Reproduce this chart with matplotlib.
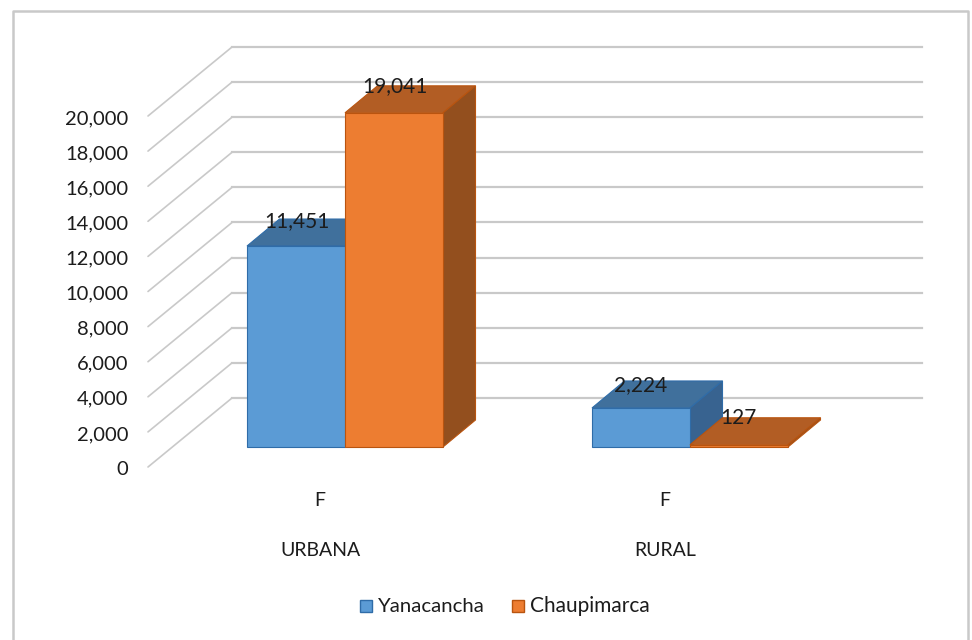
import matplotlib
matplotlib.use("Agg")
import matplotlib.pyplot as plt
from matplotlib.patches import Polygon, Rectangle

plt.rcParams['font.family'] = ['Lato', 'DejaVu Sans']

groups = ["URBANA", "RURAL"]
sub_labels = ["F", "F"]
series_names = ["Yanacancha", "Chaupimarca"]
yanacancha = [11451, 2224]
chaupimarca = [19041, 127]
ticks = list(range(0, 20001, 2000))

W, H = 972, 640
fig = plt.figure(figsize=(W / 100, H / 100), dpi=100)
ax = fig.add_axes([0, 0, 1, 1])

# scale: one group = 345 px, 1000 units = 17.55 px; group 0 centre at x=345 px, value 0 at y=447 px
PX_X = 345.0
PX_V = 0.01755
ax.set_xlim((0 - 345) / PX_X, (W - 345) / PX_X)
ax.set_ylim((447 - H) / PX_V, 447 / PX_V)
ax.axis("off")

def dx(px):
    return px / PX_X

def dv(px):
    return px / PX_V

BAR_W = dx(98)
DEPTH_X, DEPTH_V = dx(32.5), dv(27)
WALL_X0 = dx(148 - 345)
WALL_DX, WALL_DV = dx(84), dv(69)
FLOOR_V = dv(-20)
RIGHT_X = dx(922 - 345)
GRID = "#c9c9c9"
INK = "#1c1c1c"

for t in ticks:
    v = t + FLOOR_V
    ax.plot([WALL_X0, WALL_X0 + WALL_DX], [v, v + WALL_DV], color=GRID, lw=1.2, zorder=1,
            solid_capstyle="round")
    ax.plot([WALL_X0 + WALL_DX, RIGHT_X], [v + WALL_DV] * 2, color=GRID, lw=1.6, zorder=1)
    ax.text(WALL_X0 - dx(20), v - dv(2.5), f"{t:,}", ha="right", va="center",
            fontsize=14.5, color=INK)

def bar3d(x0, value, front, top, side, edge, z):
    x1 = x0 + BAR_W
    ax.add_patch(Polygon([(x0, value), (x1, value), (x1 + DEPTH_X, value + DEPTH_V),
                          (x0 + DEPTH_X, value + DEPTH_V)], fc=top, ec=edge, lw=0.8, zorder=z))
    ax.add_patch(Polygon([(x1, 0), (x1 + DEPTH_X, DEPTH_V), (x1 + DEPTH_X, value + DEPTH_V),
                          (x1, value)], fc=side, ec=edge, lw=0.8, zorder=z))
    ax.add_patch(Rectangle((x0, 0), BAR_W, value, fc=front, ec=edge, lw=0.8, zorder=z + 0.1))

BLUE = dict(front="#5b9bd5", top="#40709c", side="#386390", edge="#2f6ca8")
ORANGE = dict(front="#ed7d31", top="#b25d24", side="#934f1e", edge="#b9540f")

for i, (a, b) in enumerate(zip(yanacancha, chaupimarca)):
    bar3d(i - BAR_W, a, z=3, **BLUE)
    bar3d(i, b, z=4, **ORANGE)

lab_y = [dv(447 - 221), dv(447 - 86), dv(447 - 385), dv(447 - 418)]
lab_x = [dx(297 - 345), dx(395 - 345), dx(641 - 345), dx(738 - 345)]
values = [yanacancha[0], chaupimarca[0], yanacancha[1], chaupimarca[1]]
for x, y, v in zip(lab_x, lab_y, values):
    ax.text(x, y, f"{v:,}", ha="center", va="center", fontsize=15, color=INK, zorder=6)

for i, (s, g) in enumerate(zip(sub_labels, groups)):
    cx = i + dx(-25)
    ax.text(cx, dv(447 - 501), s, ha="center", va="center", fontsize=14, color=INK)
    ax.text(cx, dv(447 - 550), g, ha="center", va="center", fontsize=14, color=INK)

# legend
for name, px, col, ec, fs in zip(series_names, (360, 512), (BLUE["front"], ORANGE["front"]),
                                 (BLUE["edge"], ORANGE["edge"]), (14.7, 15)):
    ax.add_patch(Rectangle((dx(px - 345), dv(447 - 612)), dx(12), dv(12), fc=col, ec=ec, lw=1))
    ax.text(dx(px + 18 - 345), dv(447 - 606), name, ha="left", va="center", fontsize=fs, color=INK)

# outer frame
fx0, fx1 = dx(12.5 - 345), dx(968 - 345)
ft = dv(447 - 11)
fb = dv(447 - 640)
ax.plot([fx0, fx0, fx1, fx1], [fb, ft, ft, fb], color="#c9c9c9", lw=1.8, zorder=2)

fig.savefig("out.png", dpi=100)
